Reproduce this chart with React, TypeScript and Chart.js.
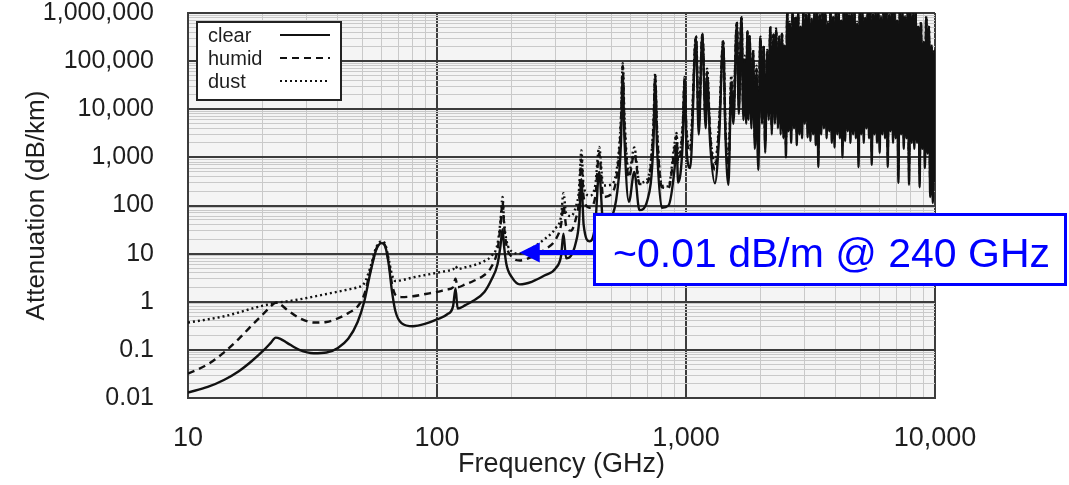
import React, { useEffect, useRef } from 'react';
import { Chart, registerables } from 'chart.js';

Chart.register(...registerables);

// ---------------- data ----------------
const FREQ_GHZ = [
  10, 12, 14, 16, 18, 20, 21.5, 22.5, 23.5, 25, 28, 32, 36, 40, 44, 48, 51, 54, 57, 60,
  62, 64, 66, 68, 72, 80, 90, 100, 110, 116, 118.7, 121, 130, 140, 155, 165, 175, 180, 183.3, 186,
  190, 200, 215, 240, 270, 300, 315, 322, 330, 345, 360, 372, 380, 388, 410, 432, 448, 465, 500, 530,
  548, 557, 566, 590, 620, 650, 700, 740, 752, 764, 800, 850, 900, 916, 930, 970, 988, 1005,
  1040, 1097, 1125, 1163, 1200, 1215, 1250, 1306, 1360, 1410, 1440, 1480,
  1520, 1550, 1600, 1630, 1670, 1700, 1720, 1745, 1765, 1780, 1800, 1830, 1860, 1890, 1920, 1950, 1990, 2020, 2050, 2080,
  2120, 2150, 2180, 2210, 2245, 2275, 2300, 2340, 2370,
  2400, 2430, 2460, 2490, 2520, 2550, 2580, 2610, 2645, 2680,
  2715, 2750, 2785, 2820, 2855, 2890, 2925, 2960, 3000, 3040,
  3080, 3120, 3160, 3200, 3240, 3280, 3320, 3360, 3400, 3445,
  3490, 3535, 3580, 3625, 3670, 3715, 3760, 3805, 3850, 3900,
  3950, 4000, 4050, 4100, 4150, 4200, 4250, 4300, 4355, 4410,
  4465, 4520, 4575, 4630, 4690, 4750, 4810, 4870, 4930, 4990,
  5050, 5110, 5175, 5240, 5305, 5370, 5435, 5500, 5570, 5640,
  5710, 5780, 5850, 5920, 5995, 6070, 6145, 6220, 6300, 6380,
  6460, 6540, 6620, 6700, 6785, 6870, 6955, 7040, 7130, 7220,
  7310, 7400, 7490, 7580, 7675, 7770, 7865, 7960, 8060, 8160,
  8260, 8360, 8465, 8570, 8675, 8780, 8890, 9000, 9110, 9220,
  9335, 9450, 9565, 9680, 9800, 9920, 10000,
];

const CLEAR = [
  0.013, 0.017, 0.024, 0.036, 0.058, 0.095, 0.14, 0.18, 0.17, 0.14, 0.1, 0.085, 0.088, 0.11, 0.17, 0.38, 1.0, 4.0, 12, 16.5,
  14, 6, 1.6, 0.65, 0.36, 0.31, 0.35, 0.43, 0.55, 0.8, 1.9, 0.72, 0.85, 1.05, 1.6, 2.8, 6, 15, 32, 14,
  6, 3.2, 2.3, 2.6, 3.5, 5, 9, 26, 8, 9, 16, 45, 350, 40, 18, 40, 500, 45, 55, 200,
  2000, 50000, 2500, 120, 500, 80, 130, 2000, 40000, 2000, 90, 100, 600, 2000, 300, 2000, 40000, 1500,
  600, 300000, 3000, 350000, 4000, 50000, 2000, 290, 3000, 250000, 3000, 270,
  30000, 5000, 600000, 8000, 800000, 6000, 100000, 5000, 400000, 6000, 320000, 4000, 150000, 1500, 60000, 550, 300000, 5000, 200000, 1250,
  150000, 6000, 490000, 3000, 350000, 5000, 450000, 4000, 300000,
  3000, 350000, 2500, 200000, 1000, 1000000, 3500, 600000, 2000, 1000000,
  4000, 800000, 1800, 1000000, 3000, 500000, 2500, 1000000, 5000, 900000,
  2600, 1000000, 2200, 700000, 3000, 1000000, 1800, 1000000, 630, 900000,
  3000, 1000000, 4000, 1000000, 2500, 600000, 3500, 1000000, 2000, 800000,
  1600, 1000000, 3000, 1000000, 2500, 700000, 1000, 1000000, 2200, 1000000,
  3500, 900000, 2000, 1000000, 3000, 1000000, 2500, 600000, 630, 1000000,
  3000, 1000000, 2000, 800000, 4000, 1000000, 2500, 1000000, 700, 900000,
  3000, 1000000, 2000, 1000000, 1250, 800000, 3000, 1000000, 2500, 1000000,
  630, 900000, 3500, 1000000, 2000, 1000000, 2500, 700000, 295, 1000000,
  3000, 1000000, 1500, 800000, 2500, 1000000, 270, 1000000, 2000, 900000,
  1500, 1000000, 2000, 500000, 240, 600000, 1500, 240000, 600, 800000,
  1200, 500000, 150, 200000, 113, 150000, 300,
];

const HUMID = [
  0.032, 0.05, 0.09, 0.17, 0.32, 0.55, 0.8, 0.95, 0.88, 0.68, 0.46, 0.37, 0.38, 0.45, 0.58, 0.8, 1.4, 4.4, 12.5, 17,
  14.5, 6.6, 2.3, 1.4, 1.25, 1.3, 1.45, 1.6, 1.8, 2.0, 3.0, 2.0, 2.3, 2.7, 3.6, 5.2, 12, 40, 120, 38,
  15, 8.5, 7.2, 8.5, 12, 20, 40, 100, 38, 30, 50, 130, 900, 150, 90, 150, 1200, 150, 170, 500,
  5000, 80000, 5000, 380, 1200, 280, 300, 4000, 50000, 4000, 240, 230, 1500, 2800, 800, 4000, 45000, 3000,
  1300, 320000, 5000, 360000, 6000, 60000, 3000, 550, 5000, 260000, 4000, 500,
  40000, 8000, 620000, 12000, 820000, 9000, 120000, 8000, 420000, 9000, 330000, 6000, 160000, 2500, 70000, 1000, 310000, 8000, 210000, 2000,
  160000, 9000, 500000, 4500, 360000, 8000, 460000, 6000, 320000,
  5000, 370000, 4000, 210000, 1800, 1000000, 5500, 620000, 3200, 1000000,
  6500, 820000, 3000, 1000000, 5000, 520000, 4000, 1000000, 8000, 920000,
  4000, 1000000, 3500, 720000, 5000, 1000000, 3000, 1000000, 1100, 920000,
  5000, 1000000, 6500, 1000000, 4000, 620000, 5500, 1000000, 3200, 820000,
  2600, 1000000, 5000, 1000000, 4000, 720000, 1700, 1000000, 3500, 1000000,
  5500, 920000, 3200, 1000000, 5000, 1000000, 4000, 620000, 1100, 1000000,
  5000, 1000000, 3200, 820000, 6500, 1000000, 4000, 1000000, 1200, 920000,
  5000, 1000000, 3200, 1000000, 2000, 820000, 5000, 1000000, 4000, 1000000,
  1100, 920000, 5500, 1000000, 3200, 1000000, 4000, 720000, 550, 1000000,
  5000, 1000000, 2500, 820000, 4000, 1000000, 500, 1000000, 3200, 920000,
  2500, 1000000, 3200, 520000, 450, 620000, 2500, 250000, 1000, 820000,
  2000, 520000, 280, 210000, 220, 160000, 450,
];

const DUST = [
  0.37, 0.43, 0.5, 0.6, 0.72, 0.83, 0.9, 0.95, 0.98, 1.02, 1.12, 1.28, 1.45, 1.62, 1.8, 2.0, 2.4, 5.2, 13.5, 18,
  15.5, 7.6, 3.6, 2.7, 2.8, 3.2, 3.6, 4.0, 4.4, 4.7, 5.5, 4.8, 5.2, 5.7, 7, 8.8, 16, 50, 150, 45,
  19, 11, 10, 13, 20, 34, 60, 180, 70, 60, 90, 220, 1400, 250, 160, 260, 1650, 260, 270, 700,
  7000, 91000, 7000, 480, 1600, 300, 350, 5000, 56000, 5000, 260, 250, 2000, 3200, 1000, 5000, 47000, 3500,
  1800, 330000, 6000, 370000, 7000, 70000, 3500, 800, 6000, 270000, 5000, 750,
  50000, 10000, 650000, 15000, 850000, 11000, 130000, 10000, 440000, 11000, 340000, 8000, 170000, 3500, 80000, 1500, 320000, 10000, 220000, 2800,
  170000, 12000, 520000, 6000, 370000, 10000, 480000, 8000, 340000,
  6500, 390000, 5500, 220000, 2400, 1000000, 7500, 650000, 4500, 1000000,
  8500, 850000, 4000, 1000000, 6500, 540000, 5500, 1000000, 10500, 950000,
  5500, 1000000, 4800, 750000, 6500, 1000000, 4000, 1000000, 1600, 950000,
  6500, 1000000, 8500, 1000000, 5500, 650000, 7500, 1000000, 4500, 850000,
  3600, 1000000, 6500, 1000000, 5500, 750000, 2400, 1000000, 4800, 1000000,
  7500, 950000, 4500, 1000000, 6500, 1000000, 5500, 650000, 1600, 1000000,
  6500, 1000000, 4500, 850000, 8500, 1000000, 5500, 1000000, 1700, 950000,
  6500, 1000000, 4500, 1000000, 2800, 850000, 6500, 1000000, 5500, 1000000,
  1600, 950000, 7500, 1000000, 4500, 1000000, 5500, 750000, 800, 1000000,
  6500, 1000000, 3300, 850000, 5500, 1000000, 750, 1000000, 4500, 950000,
  3300, 1000000, 4500, 540000, 650, 650000, 3300, 260000, 1400, 850000,
  2600, 540000, 400, 220000, 320, 170000, 600,
];

const SERIES_NAMES = ['clear', 'humid', 'dust'];

const X_DECADES = [10, 100, 1000, 10000];
const X_TICK_LABELS = ['10', '100', '1,000', '10,000'];
const Y_DECADES = [0.01, 0.1, 1, 10, 100, 1000, 10000, 100000, 1000000];
const Y_TICK_LABELS = ['0.01', '0.1', '1', '10', '100', '1,000', '10,000', '100,000', '1,000,000'];

const X_TITLE = 'Frequency (GHz)';
const Y_TITLE = 'Attenuation (dB/km)';

const ANNOT_TEXT = '~0.01 dB/m @ 240 GHz';
const ANNOT_FREQ = 215;
const ANNOT_VALUE = 10.5;

// ---------------- styling ----------------
const FONT = '"Liberation Sans", Arial, Helvetica, sans-serif';
const LINE_COLOR = '#111111';
const DASHES = [[], [7, 5], [2, 3]];
const MAJOR_GRID = '#3c3c3c';
const MINOR_GRID = '#c9c9c9';
const TEXT_COLOR = '#1e1e1e';
const BLUE = '#0000ff';

function decadeIndex(decades: number[], v: number) {
  return decades.findIndex((d) => Math.abs(Math.log10(d) - Math.log10(v)) < 1e-6);
}

function buildTicks(decades: number[]) {
  const ticks: { value: number; major: boolean }[] = [];
  decades.forEach((d, i) => {
    ticks.push({ value: d, major: true });
    if (i < decades.length - 1) {
      for (let m = 2; m <= 9; m++) ticks.push({ value: d * m, major: false });
    }
  });
  return ticks;
}

const plotBackground = {
  id: 'plotBackground',
  beforeDraw(chart: any) {
    const { ctx, chartArea } = chart;
    ctx.save();
    ctx.fillStyle = '#f4f4f4';
    ctx.fillRect(chartArea.left, chartArea.top, chartArea.right - chartArea.left, chartArea.bottom - chartArea.top);
    ctx.restore();
  },
};

const overlays = {
  id: 'overlays',
  afterDraw(chart: any) {
    const { ctx } = chart;
    const xs = chart.scales.x;
    const ys = chart.scales.y;
    ctx.save();

    // legend
    const lx = 196, ly = 21, lw = 146, lh = 80;
    ctx.fillStyle = '#ffffff';
    ctx.fillRect(lx, ly, lw, lh);
    ctx.strokeStyle = '#222222';
    ctx.lineWidth = 2;
    ctx.setLineDash([]);
    ctx.strokeRect(lx + 1, ly + 1, lw - 2, lh - 2);
    ctx.font = `20px ${FONT}`;
    ctx.fillStyle = TEXT_COLOR;
    ctx.textBaseline = 'alphabetic';
    ctx.textAlign = 'left';
    SERIES_NAMES.forEach((name, i) => {
      const base = 42 + i * 23;
      ctx.fillText(name, 208, base);
      ctx.beginPath();
      ctx.setLineDash(DASHES[i]);
      ctx.lineWidth = 2;
      ctx.strokeStyle = LINE_COLOR;
      ctx.moveTo(280, base - 7);
      ctx.lineTo(330, base - 7);
      ctx.stroke();
    });
    ctx.setLineDash([]);

    // annotation box
    const bx = 593, by = 213, bw = 474, bh = 73;
    ctx.fillStyle = '#ffffff';
    ctx.fillRect(bx, by, bw, bh);
    ctx.strokeStyle = BLUE;
    ctx.lineWidth = 3;
    ctx.strokeRect(bx + 1.5, by + 1.5, bw - 3, bh - 3);
    ctx.fillStyle = BLUE;
    ctx.font = `41px ${FONT}`;
    ctx.textBaseline = 'alphabetic';
    ctx.fillText(ANNOT_TEXT, bx + 20, by + 54);

    // arrow
    const tipX = xs.getPixelForValue(ANNOT_FREQ);
    const tipY = ys.getPixelForValue(ANNOT_VALUE);
    ctx.strokeStyle = BLUE;
    ctx.lineWidth = 5;
    ctx.beginPath();
    ctx.moveTo(bx, tipY);
    ctx.lineTo(tipX + 16, tipY);
    ctx.stroke();
    ctx.beginPath();
    ctx.moveTo(tipX, tipY);
    ctx.lineTo(tipX + 20, tipY - 10);
    ctx.lineTo(tipX + 20, tipY + 10);
    ctx.closePath();
    ctx.fill();

    ctx.restore();
  },
};

export default function App() {
  const canvasRef = useRef<HTMLCanvasElement | null>(null);

  useEffect(() => {
    if (!canvasRef.current) return;
    const series = [CLEAR, HUMID, DUST];
    const datasets = series.map((vals, i) => ({
      label: SERIES_NAMES[i],
      data: FREQ_GHZ.map((f, k) => ({ x: f, y: vals[k] })),
      borderColor: LINE_COLOR,
      backgroundColor: LINE_COLOR,
      borderWidth: 2.4,
      borderDash: DASHES[i],
      pointRadius: 0,
      fill: false,
      cubicInterpolationMode: 'monotone' as const,
    }));

    const gridColor = (decades: number[]) => (ctx: any) =>
      ctx.tick && decadeIndex(decades, ctx.tick.value) >= 0 ? MAJOR_GRID : MINOR_GRID;
    const gridWidth = (decades: number[]) => (ctx: any) =>
      ctx.tick && decadeIndex(decades, ctx.tick.value) >= 0 ? 2 : 1;

    const chart = new Chart(canvasRef.current, {
      type: 'line',
      data: { datasets },
      plugins: [plotBackground, overlays],
      options: {
        responsive: false,
        maintainAspectRatio: false,
        devicePixelRatio: 1,
        animation: false,
        layout: { padding: { top: 13, right: 134, left: 0, bottom: 0 } },
        plugins: { legend: { display: false }, tooltip: { enabled: false } },
        scales: {
          x: {
            type: 'logarithmic',
            min: 10,
            max: 10000,
            afterBuildTicks: (scale: any) => {
              scale.ticks = buildTicks(X_DECADES);
            },
            afterFit: (scale: any) => {
              scale.height = 87;
              scale.paddingLeft = 0;
              scale.paddingRight = 0;
            },
            grid: { color: gridColor(X_DECADES), lineWidth: gridWidth(X_DECADES), drawTicks: false },
            border: { display: true, color: MAJOR_GRID, width: 2 },
            ticks: {
              autoSkip: false,
              maxRotation: 0,
              minRotation: 0,
              padding: 24,
              color: TEXT_COLOR,
              font: { family: FONT, size: 27 },
              callback: (value: any) => {
                const i = decadeIndex(X_DECADES, Number(value));
                return i >= 0 ? X_TICK_LABELS[i] : '';
              },
            },
            title: {
              display: true,
              text: X_TITLE,
              color: TEXT_COLOR,
              font: { family: FONT, size: 27 },
              padding: { top: 0, bottom: 4 },
            },
          },
          y: {
            type: 'logarithmic',
            min: 0.01,
            max: 1000000,
            afterBuildTicks: (scale: any) => {
              scale.ticks = buildTicks(Y_DECADES);
            },
            afterFit: (scale: any) => {
              scale.width = 188;
              scale.paddingTop = 0;
              scale.paddingBottom = 0;
            },
            grid: { color: gridColor(Y_DECADES), lineWidth: gridWidth(Y_DECADES), drawTicks: false },
            border: { display: true, color: MAJOR_GRID, width: 2 },
            ticks: {
              autoSkip: false,
              padding: 34,
              color: TEXT_COLOR,
              font: { family: FONT, size: 25 },
              callback: (value: any) => {
                const i = decadeIndex(Y_DECADES, Number(value));
                return i >= 0 ? Y_TICK_LABELS[i] : '';
              },
            },
            title: {
              display: true,
              text: Y_TITLE,
              color: TEXT_COLOR,
              font: { family: FONT, size: 26 },
              padding: { top: 21, bottom: 0 },
            },
          },
        },
      } as any,
    });
    return () => chart.destroy();
  }, []);

  return (
    <div style={{ position: 'absolute', left: 0, top: 0, width: 1069, height: 485, background: '#ffffff' }}>
      <canvas ref={canvasRef} width={1069} height={485} style={{ display: 'block' }} />
    </div>
  );
}
